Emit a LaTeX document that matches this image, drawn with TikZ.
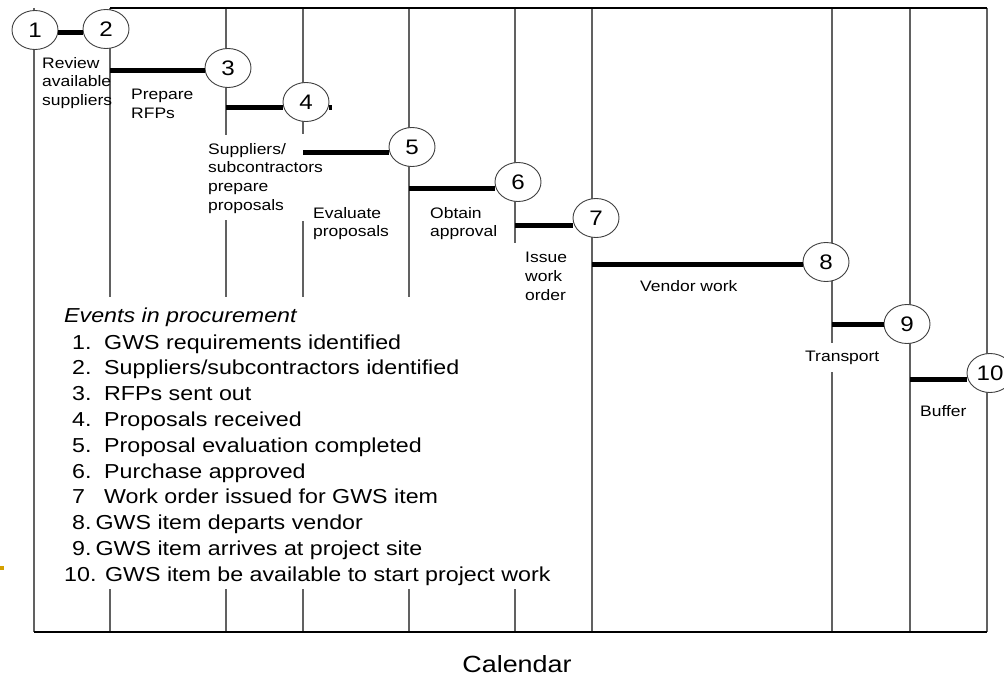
\documentclass[tikz,border=0pt]{standalone}
\usepackage{fontspec}
\setmainfont{Liberation Sans}[FakeStretch=1.15]
\usetikzlibrary{shapes.geometric}
\begin{document}
\begin{tikzpicture}[x=1pt,y=-1pt,
  vline/.style={draw=black!62,line width=1.3pt},
  frameline/.style={draw=black,line width=1.8pt},
  bar/.style={draw=black,line width=5pt},
  event/.style={ellipse,draw=black!75,line width=0.9pt,fill=white,minimum width=46pt,minimum height=39pt,inner sep=0pt,font=\fontsize{21}{21}\selectfont},
  lbl/.style={anchor=north west,align=left,inner sep=0pt,font=\fontsize{15.2}{18.7}\selectfont},
  legend/.style={anchor=base west,inner sep=0pt,font=\fontsize{20.2}{25}\selectfont}]
\useasboundingbox (0,0) rectangle (1004,677);
% vertical line positions
\coordinate (v1) at (34,8);
\coordinate (v2) at (110,8);
\coordinate (v3) at (226,8);
\coordinate (v4) at (303,8);
\coordinate (v5) at (409,8);
\coordinate (v6) at (515,8);
\coordinate (v7) at (592,8);
\coordinate (v8) at (832,8);
\coordinate (v9) at (910,8);
\coordinate (v10) at (987,8);
% vertical grid lines
\draw[vline] (v1) -- (v1 |- 0,632);
\draw[vline] (v2) -- (v2 |- 0,297) (v2 |- 0,589) -- (v2 |- 0,632);
\draw[vline] (v3) -- (v3 |- 0,135) (v3 |- 0,220) -- (v3 |- 0,297) (v3 |- 0,589) -- (v3 |- 0,632);
\draw[vline] (v4) -- (v4 |- 0,134) (v4 |- 0,221) -- (v4 |- 0,297) (v4 |- 0,589) -- (v4 |- 0,632);
\draw[vline] (v5) -- (v5 |- 0,297) (v5 |- 0,589) -- (v5 |- 0,632);
\draw[vline] (v6) -- (v6 |- 0,243) (v6 |- 0,589) -- (v6 |- 0,632);
\draw[vline] (v7) -- (v7 |- 0,632);
\draw[vline] (v8) -- (v8 |- 0,343) (v8 |- 0,372) -- (v8 |- 0,632);
\draw[vline] (v9) -- (v9 |- 0,632);
\draw[vline] (v10) -- (v10 |- 0,632);
% frame lines
\draw[frameline] (v2) -- (v10);
\draw[frameline] (v1 |- 0,632) -- (v10 |- 0,632);
% events
\node[event] (n1) at (35,30) {1};
\node[event] (n2) at (106,29) {2};
\node[event] (n3) at (228,68) {3};
\node[event] (n4) at (306,102) {4};
\node[event] (n5) at (412,147) {5};
\node[event] (n6) at (518,182) {6};
\node[event] (n7) at (596,218) {7};
\node[event] (n8) at (826,262) {8};
\node[event] (n9) at (907,324) {9};
\node[event] (n10) at (990,373) {10};
% activity bars
\draw[bar] (n1.east |- 0,33) -- (n2.west |- 0,33);
\draw[bar] (v2 |- 0,71) -- (n3.west |- 0,71);
\draw[bar] (v3 |- 0,107) -- (n4.west |- 0,107);
\draw[bar] (n4.east |- 0,107) -- ([xshift=3pt]n4.east |- 0,107);
\draw[bar] (v4 |- 0,152) -- (n5.west |- 0,152);
\draw[bar] (v5 |- 0,188) -- (n6.west |- 0,188);
\draw[bar] (v6 |- 0,225) -- (n7.west |- 0,225);
\draw[bar] (v7 |- 0,264) -- (n8.west |- 0,264);
\draw[bar] (v8 |- 0,324) -- (n9.west |- 0,324);
\draw[bar] (v9 |- 0,379) -- (n10.west |- 0,379);
% activity labels
\node[lbl] (a12) at (42,57) {Review\\available\\suppliers};
\node[lbl] (a23) at (131,89) {Prepare\\RFPs};
\node[lbl] (a34) at (208,143) {Suppliers/\\subcontractors\\prepare\\proposals};
\node[lbl] (a45) at (313,207) {Evaluate\\proposals};
\node[lbl] (a56) at (430,207) {Obtain\\approval};
\node[lbl] (a67) at (525,252) {Issue\\work\\order};
\node[lbl] (a78) at (640,280) {Vendor work};
\node[lbl] (a89) at (805,351) {Transport};
\node[lbl] (a910) at (920,405) {Buffer};
% legend
\node[legend,font=\fontsize{20.2}{25}\selectfont\itshape] (ev) at (64,322) {Events in procurement};
\node[legend] (e1) at (72,349) {\makebox[32pt][l]{1.}GWS requirements identified};
\node[legend] (e2) at (72,374.8) {\makebox[32pt][l]{2.}Suppliers/subcontractors identified};
\node[legend] (e3) at (72,400.6) {\makebox[32pt][l]{3.}RFPs sent out};
\node[legend] (e4) at (72,426.4) {\makebox[32pt][l]{4.}Proposals received};
\node[legend] (e5) at (72,452.2) {\makebox[32pt][l]{5.}Proposal evaluation completed};
\node[legend] (e6) at (72,478) {\makebox[32pt][l]{6.}Purchase approved};
\node[legend] (e7) at (72,503.8) {\makebox[32pt][l]{7}Work order issued for GWS item};
\node[legend] (e8) at (72,529.6) {8.\hspace{0.2em}GWS item departs vendor};
\node[legend] (e9) at (72,555.4) {9.\hspace{0.2em}GWS item arrives at project site};
\node[legend] (e10) at (64,581.2) {10. GWS item be available to start project work};
% axis label
\node[inner sep=0pt,font=\fontsize{23.4}{24}\selectfont] (cal) at (517,664) {Calendar};
% slide bullet remnant
\fill[color={rgb,255:red,212;green,160;blue,0}] (0,566) rectangle (4,570);
\end{tikzpicture}
\end{document}
